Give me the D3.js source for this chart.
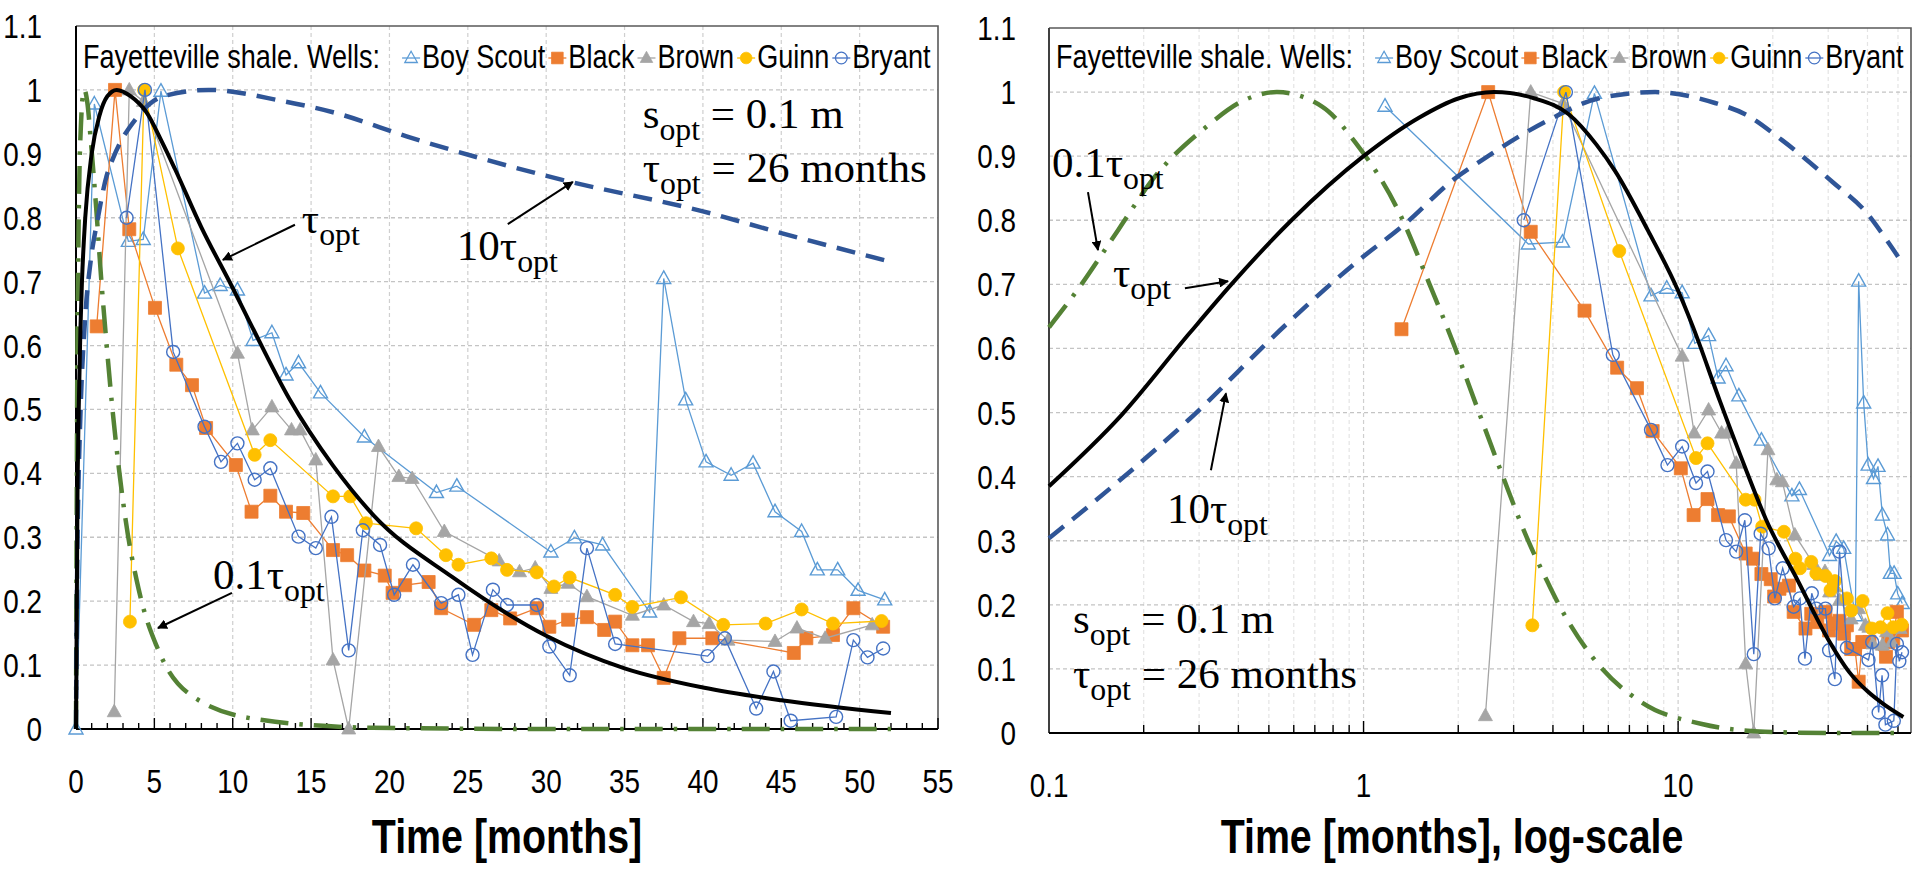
<!DOCTYPE html>
<html>
<head>
<meta charset="utf-8">
<title>Fayetteville shale wells</title>
<script src="https://d3js.org/d3.v7.min.js"></script>
<style>
  body { margin: 0; background: #fff; }
  text { white-space: pre; }
</style>
</head>
<body>
<script>

// ---------- values ----------
var yTicks = [0, 0.1, 0.2, 0.3, 0.4, 0.5, 0.6, 0.7, 0.8, 0.9, 1, 1.1];
var linTicks = [0, 5, 10, 15, 20, 25, 30, 35, 40, 45, 50, 55];
var logTicks = [0.1, 1, 10];

// wells: [time in months, normalised rate]
var boyScout = [[0,0],[1.17,0.978],[3.34,0.763],[4.29,0.766],[5.42,0.998],[8.2,0.682],[9.2,0.694],
  [10.3,0.687],[11.3,0.608],[12.5,0.62],[13.4,0.554],[14.2,0.573],[15.6,0.526],[18.4,0.457],
  [23.0,0.37],[24.3,0.38],[30.3,0.277],[31.8,0.299],[33.6,0.288],[36.6,0.183],[37.5,0.705],
  [38.9,0.515],[40.2,0.418],[41.8,0.397],[43.2,0.416],[44.6,0.34],[46.3,0.309],[47.3,0.249],
  [48.6,0.249],[49.9,0.217],[51.6,0.202]];

var black = [[1.32,0.63],[2.49,1.0],[3.4,0.782],[5.04,0.659],[6.4,0.57],[7.4,0.538],[8.3,0.471],
  [10.2,0.413],[11.2,0.34],[12.4,0.365],[13.4,0.34],[14.5,0.338],[16.4,0.28],[17.3,0.272],
  [18.4,0.248],[19.7,0.24],[20.2,0.213],[21.0,0.225],[22.5,0.23],[23.3,0.189],[25.4,0.163],
  [26.5,0.186],[27.7,0.173],[29.4,0.189],[30.2,0.16],[31.4,0.171],[32.6,0.175],[33.7,0.155],
  [34.4,0.168],[35.5,0.131],[36.5,0.131],[37.5,0.08],[38.5,0.142],[40.6,0.142],[45.8,0.119],
  [46.6,0.142],[48.3,0.147],[49.6,0.189],[51.5,0.16]];

var brown = [[2.44,0.027],[3.4,1.0],[4.3,0.982],[10.3,0.588],[11.25,0.468],[12.5,0.504],
  [13.75,0.468],[14.3,0.468],[15.3,0.421],[16.4,0.108],[17.4,0.0],[19.3,0.442],[20.6,0.395],
  [21.45,0.392],[23.5,0.309],[27.0,0.263],[28.3,0.246],[29.3,0.252],[30.3,0.22],[31.4,0.228],
  [32.6,0.207],[35.5,0.178],[37.5,0.194],[39.4,0.168],[40.4,0.165],[41.6,0.139],[44.6,0.137],
  [46.0,0.158],[47.8,0.142],[50.8,0.163]];

var guinn = [[3.44,0.168],[4.34,1.0],[6.5,0.752],[11.4,0.429],[12.4,0.452],[16.4,0.364],
  [17.5,0.364],[18.5,0.322],[21.7,0.314],[23.6,0.272],[24.4,0.257],[26.5,0.267],[27.5,0.249],
  [29.4,0.245],[30.5,0.223],[31.5,0.237],[34.4,0.21],[35.5,0.191],[38.6,0.206],[41.3,0.163],
  [44.0,0.165],[46.3,0.187],[48.3,0.165],[51.4,0.169]];

var bryant = [[3.23,0.80],[4.4,1.0],[6.2,0.59],[8.2,0.473],[9.25,0.418],[10.3,0.447],[11.4,0.39],
  [12.4,0.408],[14.2,0.301],[15.3,0.283],[16.3,0.332],[17.4,0.123],[18.3,0.311],[19.4,0.288],
  [20.3,0.21],[21.5,0.257],[23.3,0.197],[24.4,0.21],[25.3,0.116],[26.6,0.218],[27.5,0.194],
  [29.4,0.194],[30.2,0.129],[31.5,0.084],[32.6,0.283],[34.4,0.133],[40.3,0.114],[41.4,0.142],
  [43.4,0.032],[44.5,0.09],[45.6,0.013],[48.5,0.019],[49.6,0.139],[50.5,0.112],[51.5,0.126]];

// model curves, read point by point
var tauCurve = [[0,0],[0.1,0.385],[0.17,0.496],[0.28,0.624],[0.38,0.70],[0.59,0.80],[1.0,0.90],
  [1.5,0.96],[2.0,0.99],[2.6,1.0],[3.5,0.99],[4.5,0.965],[5.5,0.918],[6.3,0.877],[8.0,0.785],
  [10,0.69],[11.1,0.636],[13.6,0.517],[16.4,0.412],[19,0.334],[24,0.238],[30,0.146],[35,0.095],
  [40,0.065],[45,0.045],[52,0.025]];

var tau01Curve = [[0,0],[0.1,0.633],[0.126,0.698],[0.166,0.785],[0.217,0.868],[0.313,0.944],
  [0.42,0.988],[0.53,1.0],[0.74,0.977],[0.94,0.922],[1.31,0.808],[1.60,0.707],[1.93,0.608],
  [2.30,0.507],[2.75,0.405],[3.31,0.304],[3.86,0.234],[4.12,0.206],[5.37,0.117],[7.7,0.047],
  [11.9,0.014],[18.9,0.002],[30,0],[52,0]];

var tau10Curve = [[0,0],[0.1,0.304],[0.133,0.353],[0.277,0.488],[0.575,0.64],[0.94,0.733],
  [1.36,0.795],[1.95,0.865],[2.38,0.894],[3.86,0.956],[5.57,0.99],[8.45,1.0],[13.1,0.983],
  [16.4,0.965],[21.4,0.925],[30.9,0.86],[40,0.81],[45,0.776],[52,0.731]];

// ---------- page ----------
var w = 1915, h = 869;
var sans = "'Liberation Sans', Arial, sans-serif";
var serif = "'Liberation Serif', 'DejaVu Serif', serif";
var squeeze = 0.82;   // narrow sans look

var svg = d3.select('body').append('svg')
    .attr('width', w)
    .attr('height', h)
    .style('background', '#fff');

var defs = svg.append('defs');
defs.append('marker')
    .attr('id', 'arrow')
    .attr('viewBox', '0 0 10 10')
    .attr('refX', 9).attr('refY', 5)
    .attr('markerWidth', 5).attr('markerHeight', 5)
    .attr('markerUnits', 'strokeWidth')
    .attr('orient', 'auto')
  .append('path')
    .attr('d', 'M0,0L10,5L0,10Z')
    .attr('fill', '#000');

var wells = [
  {name: 'Boy Scout', data: boyScout, color: '#5B9BD5', shape: 'triangle', filled: false},
  {name: 'Black',     data: black,    color: '#ED7D31', shape: 'square',   filled: true},
  {name: 'Brown',     data: brown,    color: '#A5A5A5', shape: 'triangle', filled: true},
  {name: 'Guinn',     data: guinn,    color: '#FFC000', shape: 'circle',   filled: true},
  {name: 'Bryant',    data: bryant,   color: '#4472C4', shape: 'circle',   filled: false}
];

var curves = [
  {data: tau01Curve, color: '#548235', dash: '28,11,3.5,11', width: 4.5},
  {data: tau10Curve, color: '#2F5597', dash: '19,11', width: 4.5},
  {data: tauCurve,   color: '#000000', dash: null, width: 4}
];

var shapes = {
  triangle: 'M0,-7.5L7,5L-7,5Z',
  square: 'M-6.5,-6.5H6.5V6.5H-6.5Z',
  circle: d3.symbol(d3.symbolCircle, Math.PI * 6.5 * 6.5)()
};

function styleMarker(sel, well) {
  sel.attr('d', shapes[well.shape])
     .attr('fill', well.filled ? well.color : 'none')
     .attr('stroke', well.color)
     .attr('stroke-width', well.filled ? 0.8 : 1.4);
}

// sans text squeezed sideways around its anchor point
function narrowText(parent, x, y, size, str) {
  return parent.append('text')
      .attr('transform', 'translate(' + x + ',' + y + ') scale(' + squeeze + ',1)')
      .attr('font-family', sans)
      .attr('font-size', size)
      .text(str);
}

// serif label like "0.1τ" + subscript "opt" + rest
function mathLabel(g, x, y, main, rest, size) {
  var t = g.append('text')
      .attr('x', x).attr('y', y)
      .attr('font-family', serif)
      .attr('font-size', size)
      .attr('fill', '#000');
  t.append('tspan').text(main);
  t.append('tspan').attr('font-size', size * 0.74).attr('dy', size * 0.28).text('opt');
  if (rest) t.append('tspan').attr('dy', -size * 0.28).text(rest);
  return t;
}

function arrow(g, x1, y1, x2, y2) {
  g.append('line')
      .attr('x1', x1).attr('y1', y1)
      .attr('x2', x2).attr('y2', y2)
      .attr('stroke', '#000')
      .attr('stroke-width', 2)
      .attr('marker-end', 'url(#arrow)');
}

var panels = [
  {
    log: false,
    x: d3.scaleLinear().domain([0, 55]).range([76, 938]),
    y: d3.scaleLinear().domain([0, 1.1]).range([729, 26]),
    yLabelX: 42,
    titleX: 507,
    title: 'Time [months]',
    notes: [
      {main: 'τ', rest: '', t: 14.41, v: 0.776, from: [13.97, 0.789], to: [9.37, 0.734]},
      {main: '10τ', rest: '', t: 24.3, v: 0.734, from: [27.55, 0.79], to: [31.7, 0.856]},
      {main: '0.1τ', rest: '', t: 8.74, v: 0.219, from: [9.95, 0.213], to: [5.23, 0.158]},
      {main: 's', rest: ' = 0.1 m', t: 36.16, v: 0.9405},
      {main: 'τ', rest: ' = 26 months', t: 36.16, v: 0.856}
    ]
  },
  {
    log: true,
    x: d3.scaleLog().domain([0.1, 55]).range([1049, 1911]),
    y: d3.scaleLinear().domain([0, 1.1]).range([733, 28]),
    yLabelX: 1016,
    titleX: 1452,
    title: 'Time [months], log-scale',
    notes: [
      {main: '0.1τ', rest: '', t: 0.1022, v: 0.867, from: [0.133, 0.844], to: [0.1431, 0.7535]},
      {main: 'τ', rest: '', t: 0.1597, v: 0.696, from: [0.2705, 0.694], to: [0.3709, 0.705]},
      {main: '10τ', rest: '', t: 0.2371, v: 0.3276, from: [0.3271, 0.41], to: [0.3652, 0.53]},
      {main: 's', rest: ' = 0.1 m', t: 0.1192, v: 0.156},
      {main: 'τ', rest: ' = 26 months', t: 0.1192, v: 0.0702}
    ]
  }
];

panels.forEach(function(p) {
  var g = svg.append('g');
  var xr = p.x.range(), yr = p.y.range();
  var left = xr[0], right = xr[1], bottom = yr[0], top = yr[1];

  // vertical grid
  var vGrid;
  if (p.log) {
    vGrid = [];
    [0.1, 1, 10].forEach(function(dec) {
      for (var k = 1; k <= 9; k++) {
        var v = dec * k;
        if (v > 0.1 && v < 55) vGrid.push({v: v, major: k === 1});
      }
    });
  } else {
    vGrid = linTicks.filter(function(d) { return d > 0 && d < 55; })
                    .map(function(d) { return {v: d, major: true}; });
  }
  g.selectAll('.vgrid').data(vGrid).enter().append('line')
      .attr('x1', function(d) { return p.x(d.v); })
      .attr('x2', function(d) { return p.x(d.v); })
      .attr('y1', top).attr('y2', bottom)
      .attr('stroke', function(d) { return d.major ? '#cfcfcf' : '#e4e4e4'; })
      .attr('stroke-width', 1.2)
      .attr('stroke-dasharray', '4,3');

  // horizontal grid
  g.selectAll('.hgrid').data(yTicks.filter(function(d) { return d > 0 && d < 1.05; }))
    .enter().append('line')
      .attr('x1', left).attr('x2', right)
      .attr('y1', function(d) { return p.y(d); })
      .attr('y2', function(d) { return p.y(d); })
      .attr('stroke', '#c4c4c4')
      .attr('stroke-width', 1.3)
      .attr('stroke-dasharray', '4,3');

  // frame
  g.append('path')
      .attr('d', 'M' + left + ',' + top + 'H' + right + 'V' + bottom)
      .attr('fill', 'none')
      .attr('stroke', '#595959')
      .attr('stroke-width', 1.6);
  g.append('line')
      .attr('x1', left).attr('x2', left).attr('y1', top).attr('y2', bottom)
      .attr('stroke', p.log ? '#404040' : '#000')
      .attr('stroke-width', 2);

  // x tick marks, pointing inward
  var xMarks = [];
  if (p.log) {
    vGrid.forEach(function(d) { xMarks.push({v: d.v, len: d.major ? 12 : 8}); });
  } else {
    for (var m = 1; m <= 55; m++) xMarks.push({v: m, len: m % 5 === 0 ? 11 : 6});
  }
  g.selectAll('.xtick').data(xMarks).enter().append('line')
      .attr('x1', function(d) { return p.x(d.v); })
      .attr('x2', function(d) { return p.x(d.v); })
      .attr('y1', bottom)
      .attr('y2', function(d) { return bottom - d.len; })
      .attr('stroke', '#000')
      .attr('stroke-width', 1.4);
  g.append('line')
      .attr('x1', left).attr('x2', right).attr('y1', bottom).attr('y2', bottom)
      .attr('stroke', '#000')
      .attr('stroke-width', 2);

  // tick labels
  yTicks.forEach(function(d) {
    narrowText(g, p.yLabelX, p.y(d) + 12, 34, String(+d.toFixed(1)))
        .attr('text-anchor', 'end');
  });
  (p.log ? logTicks : linTicks).forEach(function(d) {
    narrowText(g, p.x(d), bottom + 64, 34, String(d))
        .attr('text-anchor', 'middle');
  });

  narrowText(g, p.titleX, 853, 48, p.title)
      .attr('text-anchor', 'middle')
      .attr('font-weight', 'bold');

  // wells
  var line = d3.line()
      .x(function(d) { return p.x(d[0]); })
      .y(function(d) { return p.y(d[1]); });

  wells.forEach(function(well) {
    var pts = well.data.filter(function(d) { return !p.log || d[0] > 0; });
    g.append('path')
        .datum(pts)
        .attr('d', line)
        .attr('fill', 'none')
        .attr('stroke', well.color)
        .attr('stroke-width', 1.3);
    g.selectAll(null).data(pts).enter().append('path')
        .attr('transform', function(d) { return 'translate(' + p.x(d[0]) + ',' + p.y(d[1]) + ')'; })
        .call(styleMarker, well);
  });

  // model curves
  var curveLine = d3.line()
      .curve(d3.curveMonotoneX)
      .x(function(d) { return p.x(d[0]); })
      .y(function(d) { return p.y(d[1]); });

  curves.forEach(function(c) {
    var pts = c.data.filter(function(d) { return !p.log || d[0] >= 0.1; });
    g.append('path')
        .datum(pts)
        .attr('d', curveLine)
        .attr('fill', 'none')
        .attr('stroke', c.color)
        .attr('stroke-width', c.width)
        .attr('stroke-dasharray', c.dash);
  });

  // legend inside the plot
  var lg = g.append('g');
  var legendY = 68;
  var title = narrowText(lg, left + 7, legendY, 33, 'Fayetteville shale. Wells:');
  var cx = left + 7 + title.node().getComputedTextLength() * squeeze + 31;
  wells.forEach(function(well) {
    lg.append('line')
        .attr('x1', cx - 9).attr('x2', cx + 9)
        .attr('y1', legendY - 10).attr('y2', legendY - 10)
        .attr('stroke', well.color)
        .attr('stroke-width', 1.3);
    lg.append('path')
        .attr('transform', 'translate(' + cx + ',' + (legendY - 10) + ') scale(0.9)')
        .call(styleMarker, well);
    var t = narrowText(lg, cx + 11, legendY, 33, well.name);
    cx = cx + 11 + t.node().getComputedTextLength() * squeeze + 12;
  });

  // annotations
  p.notes.forEach(function(n) {
    mathLabel(g, p.x(n.t), p.y(n.v), n.main, n.rest, 43);
    if (n.from) arrow(g, p.x(n.from[0]), p.y(n.from[1]), p.x(n.to[0]), p.y(n.to[1]));
  });
});

</script>
</body>
</html>
